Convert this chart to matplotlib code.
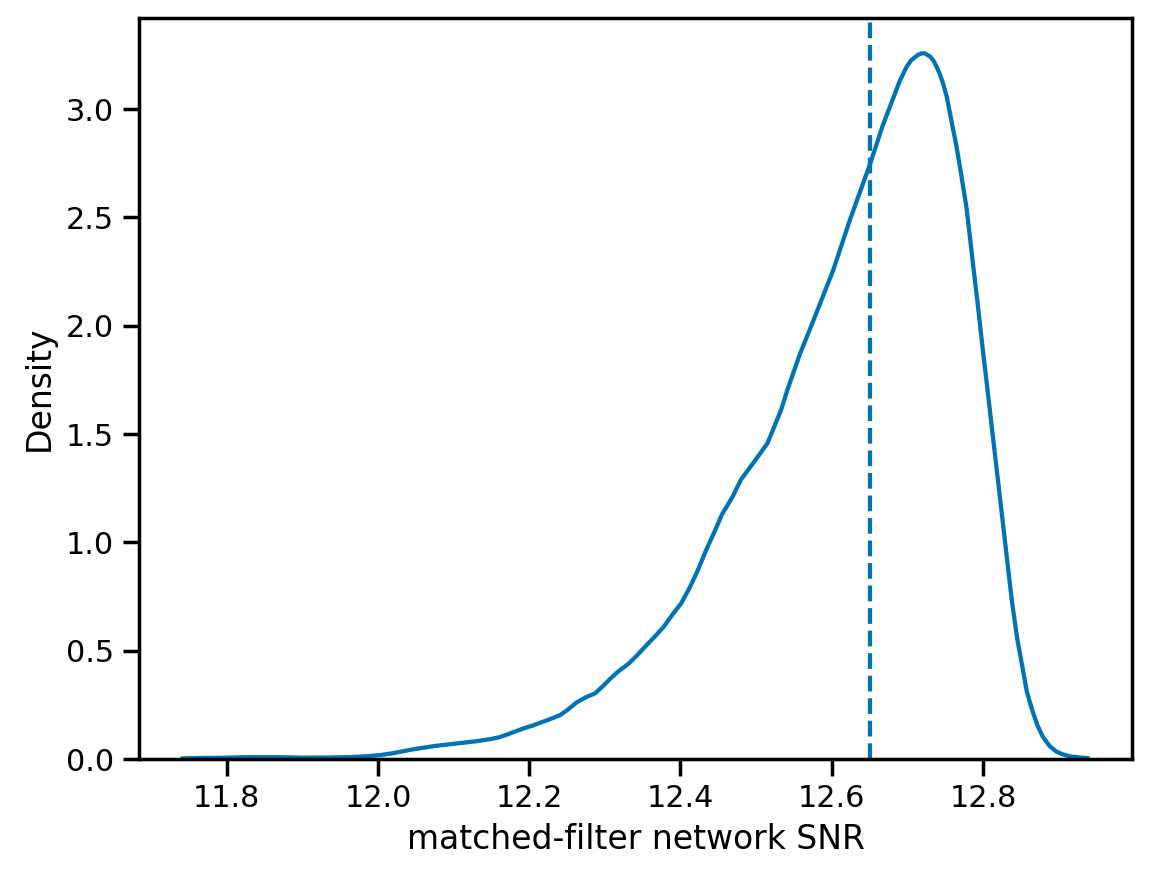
import matplotlib
matplotlib.use("Agg")
import matplotlib.pyplot as plt

# KDE curve
snr = [11.742, 11.77, 11.80, 11.82, 11.849, 11.875, 11.90, 11.937, 11.965,
       11.99, 12.005, 12.02, 12.047, 12.06, 12.075, 12.09, 12.105, 12.115,
       12.13, 12.149, 12.16, 12.17, 12.18, 12.193, 12.205, 12.215, 12.223,
       12.232, 12.241, 12.25, 12.263, 12.275, 12.287, 12.297, 12.307, 12.318,
       12.332, 12.343, 12.355, 12.366, 12.378, 12.389, 12.401, 12.412, 12.423,
       12.434, 12.446, 12.455, 12.469, 12.48, 12.496, 12.515, 12.533, 12.541,
       12.558, 12.576, 12.602, 12.624, 12.651, 12.667, 12.682, 12.690, 12.699,
       12.705, 12.714, 12.719, 12.723, 12.730, 12.734, 12.738, 12.743, 12.747,
       12.752, 12.758, 12.765, 12.771, 12.778, 12.783, 12.787, 12.792, 12.796,
       12.800, 12.805, 12.812, 12.818, 12.824, 12.831, 12.838, 12.845, 12.852,
       12.858, 12.865, 12.872, 12.879, 12.888, 12.897, 12.905, 12.915, 12.925,
       12.938]
density = [0.003, 0.005, 0.006, 0.008, 0.009, 0.008, 0.006, 0.007, 0.009,
           0.014, 0.019, 0.027, 0.045, 0.052, 0.060, 0.066, 0.072, 0.076,
           0.082, 0.092, 0.100, 0.112, 0.125, 0.142, 0.155, 0.168, 0.178,
           0.190, 0.203, 0.225, 0.262, 0.285, 0.303, 0.335, 0.370, 0.405,
           0.442, 0.480, 0.525, 0.565, 0.611, 0.665, 0.719, 0.790, 0.872,
           0.965, 1.057, 1.130, 1.211, 1.290, 1.365, 1.457, 1.611, 1.700,
           1.870, 2.026, 2.257, 2.488, 2.749, 2.920, 3.057, 3.130, 3.195,
           3.225, 3.250, 3.257, 3.257, 3.242, 3.226, 3.200, 3.160, 3.120,
           3.057, 2.950, 2.826, 2.700, 2.549, 2.400, 2.277, 2.130, 2.005,
           1.880, 1.733, 1.520, 1.340, 1.158, 0.946, 0.734, 0.560, 0.426,
           0.310, 0.226, 0.155, 0.103, 0.060, 0.034, 0.022, 0.012, 0.008,
           0.004]
injected_snr = 12.651

blue = "#0173b2"

plt.rcParams.update({
    "font.family": "DejaVu Sans",
    "axes.linewidth": 1.4,
    "xtick.major.width": 1.4,
    "ytick.major.width": 1.4,
    "xtick.major.size": 6.6,
    "ytick.major.size": 6.6,
    "xtick.labelsize": 12.1,
    "ytick.labelsize": 12.1,
    "axes.labelsize": 13.2,
})

fig = plt.figure(figsize=(1151 / 180, 878 / 180), dpi=180)
ax = fig.add_axes([139 / 1151, 1 - 759 / 878, (1132 - 139) / 1151, (759 - 18) / 878])
ax.plot(snr, density, color=blue, lw=1.7, solid_joinstyle="round")
ax.axvline(injected_snr, color=blue, ls="--", lw=1.7)
ax.set_xlim(11.684, 12.997)
ax.set_ylim(0, 3.42)
ax.set_xticks([11.8, 12.0, 12.2, 12.4, 12.6, 12.8])
ax.set_yticks([0.0, 0.5, 1.0, 1.5, 2.0, 2.5, 3.0])
ax.set_xlabel("matched-filter network SNR")
ax.set_ylabel("Density")
fig.savefig("out.png", dpi=180)
